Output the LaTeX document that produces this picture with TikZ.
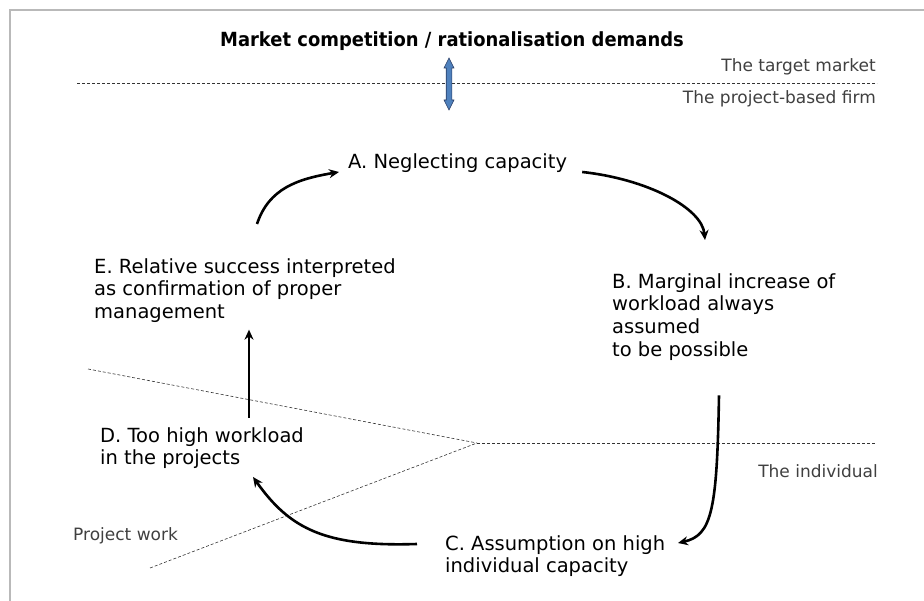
\documentclass[tikz,border=0pt]{standalone}
\usepackage{fontspec}
\setmainfont{DejaVu Sans}
\usetikzlibrary{arrows.meta,calc}
\definecolor{arrowblue}{RGB}{79,129,189}
\definecolor{arrowedge}{RGB}{40,60,100}
\begin{document}
\begin{tikzpicture}[x=1pt,y=-1pt,
  lbl/.style={anchor=north west, inner sep=0pt, align=left, font=\fontsize{19.5}{22.7}\selectfont},
  side/.style={anchor=base east, inner sep=0pt, text=black!75, font=\fontsize{17}{20}\selectfont},
  flow/.style={line width=2.6pt, -{Stealth[length=10pt,width=9pt]}},
  sep/.style={line width=0.6pt, dash pattern=on 3pt off 2pt, black!80},
  frame/.style={gray!55, line width=2pt}]
\useasboundingbox (0,0) rectangle (924,601);
\draw[frame] (924,10) -- (10,10) -- (10,601);

% title and band labels
\node[anchor=base, inner sep=0pt, font=\bfseries\fontsize{19.5}{22}\selectfont] (title) at (452,47)
  {\scalebox{0.92}[1]{Market competition / rationalisation demands}};
\node[side] (tm) at (876,72) {The target market};
\node[side] (pbf) at (876,104) {The project-based firm};
\node[side] (ind) at (878,478) {The individual};
\node[side, anchor=base west] (pw) at (73,540) {Project work};

% separators
\draw[sep] (77,83) -- (877,83);
\draw[sep] (88,369) -- (477,443);
\draw[sep] (477,443) -- (876,443);
\draw[sep] (150,568) -- (477,443);

% double arrow
\filldraw[fill=arrowblue, draw=arrowedge, line width=0.6pt]
  (449,58) -- (454,68) -- (451.8,68) -- (451.8,100) -- (454,100) -- (449,110)
  -- (444,100) -- (446.2,100) -- (446.2,68) -- (444,68) -- cycle;

% cycle nodes
\node[lbl, anchor=base west] (A) at (348,169) {A. Neglecting capacity};
\node[lbl] (B) at (612,273) {B. Marginal increase of\\workload always\\assumed\\to be possible};
\node[lbl] (C) at (445,535) {C. Assumption on high\\individual capacity};
\node[lbl] (D) at (100,427) {D. Too high workload\\in the projects};
\node[lbl] (E) at (94,258) {E. Relative success interpreted\\as confirmation of proper\\management};

% connectors
\draw[flow] ($(A.base east)+(15,3)$) .. controls ($(A.base east)+(80,10)$) and ($(B.north west)+(90,-65)$) .. ($(B.north west)+(93,-33)$);
\draw[flow] ($(B.south west)+(107,35)$) .. controls ($(B.south west)+(105,150)$) and ($(B.south west)+(100,175)$) .. ($(C.north west)+(233,8)$);
\draw[flow] ($(C.north west)+(-28,9)$) .. controls ($(C.north west)+(-120,12)$) and ($(D.south west)+(190,60)$) .. ($(D.south west)+(153,8)$);
\draw[flow] ($(D.north west)+(149,-9)$) -- ($(E.south west)+(155,7)$);
\draw[flow] ($(E.north west)+(163,-34)$) .. controls ($(E.north west)+(175,-70)$) and ($(A.base west)+(-50,10)$) .. ($(A.base west)+(-9,3)$);
\end{tikzpicture}
\end{document}
